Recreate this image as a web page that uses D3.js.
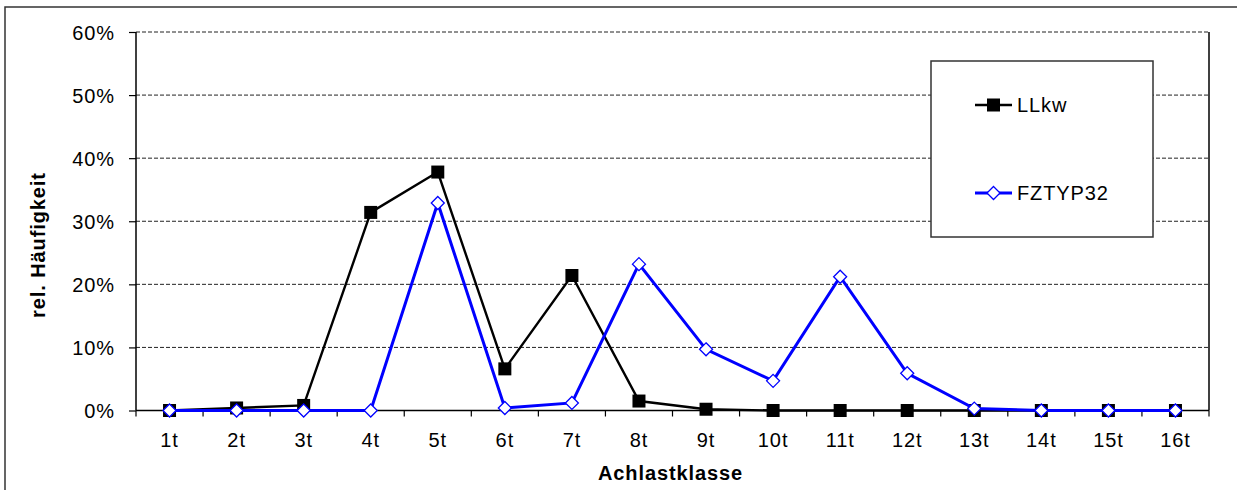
<!DOCTYPE html>
<html>
<head>
<meta charset="utf-8">
<script src="https://cdn.jsdelivr.net/npm/d3@7"></script>
<style>
  html, body { margin: 0; padding: 0; background: #fff; }
  svg { display: block; }
  text { font-family: "Liberation Sans", Arial, sans-serif; fill: #000; }
</style>
</head>
<body>
<svg id="chart" width="1237" height="490"></svg>
<script>
const categories = ["1t","2t","3t","4t","5t","6t","7t","8t","9t","10t","11t","12t","13t","14t","15t","16t"];
const llkw    = [0.000, 0.004, 0.008, 0.314, 0.378, 0.066, 0.214, 0.015, 0.002, 0.000, 0.000, 0.000, 0.000, 0.000, 0.000, 0.000];
const fztyp32 = [0.000, 0.000, 0.000, 0.000, 0.329, 0.004, 0.012, 0.232, 0.097, 0.047, 0.212, 0.059, 0.003, 0.000, 0.000, 0.000];
const seriesNames = ["LLkw", "FZTYP32"];
const yTicks = [0, 0.1, 0.2, 0.3, 0.4, 0.5, 0.6];
const xTitle = "Achlastklasse";
const yTitle = "rel. Häufigkeit";

const svg = d3.select("#chart");
const L = 136, R = 1209, T = 32, B = 410.5;
const FS = "20px", LS = "0.9px";

const x = d3.scaleBand().domain(categories).range([L, R]).padding(0);
const y = d3.scaleLinear().domain([0, 0.6]).range([B, T]);
const cx = d => x(d) + x.bandwidth() / 2;

// outer border
svg.append("rect").attr("x", 5).attr("y", 7).attr("width", 1240).attr("height", 490)
  .attr("fill", "none").attr("stroke", "#333").attr("stroke-width", 1.5);

// gridlines
svg.append("g").selectAll("line").data(yTicks.filter(v => v > 0)).join("line")
  .attr("x1", L).attr("x2", R).attr("y1", d => y(d)).attr("y2", d => y(d))
  .attr("stroke", "#222").attr("stroke-width", 1).attr("stroke-dasharray", "4,2");

// right border of plot
svg.append("line").attr("x1", R).attr("x2", R).attr("y1", T).attr("y2", B)
  .attr("stroke", "#000").attr("stroke-width", 1.5);

// y axis
const yAxis = d3.axisLeft(y).tickValues(yTicks).tickFormat(d3.format(".0%")).tickSize(7).tickPadding(14);
const gy = svg.append("g").attr("transform", `translate(${L},0)`).call(yAxis);
gy.select(".domain").attr("stroke", "#000").attr("stroke-width", 1.5).attr("d", `M0,${T}V${B}`);
gy.selectAll(".tick line").attr("stroke", "#000").attr("stroke-width", 1.2);
gy.selectAll(".tick text").style("font-size", FS).style("letter-spacing", LS)
  .attr("font-family", null).attr("dy", "0.36em");

// x axis
const xAxis = d3.axisBottom(x).tickSize(0).tickPadding(0);
const gx = svg.append("g").attr("transform", `translate(0,${B})`).call(xAxis);
gx.select(".domain").attr("stroke", "#000").attr("stroke-width", 1.5).attr("d", `M${L},0H${R}`);
gx.selectAll(".tick text").style("font-size", FS).style("letter-spacing", LS)
  .attr("font-family", null).attr("y", 36.5).attr("dy", 0);
// boundary ticks
const bounds = categories.map(c => x(c)).concat([x(categories[categories.length - 1]) + x.bandwidth()]);
gx.append("g").selectAll("line").data(bounds).join("line")
  .attr("x1", d => d).attr("x2", d => d).attr("y1", 0).attr("y2", 6)
  .attr("stroke", "#000").attr("stroke-width", 1.2);

// axis titles
svg.append("text").attr("x", (L + R) / 2 - 2).attr("y", 480).attr("text-anchor", "middle")
  .style("font-size", FS).style("font-weight", "bold").style("letter-spacing", LS).text(xTitle);
svg.append("text").attr("transform", `translate(45,${245}) rotate(-90)`).attr("text-anchor", "middle")
  .style("font-size", FS).style("font-weight", "bold").style("letter-spacing", LS).text(yTitle);

// lines
const line = d3.line().x((d, i) => cx(categories[i])).y(d => y(d));
svg.append("path").datum(llkw).attr("d", line).attr("fill", "none").attr("stroke", "#000").attr("stroke-width", 2.4);
svg.append("g").selectAll("rect").data(llkw).join("rect")
  .attr("x", (d, i) => cx(categories[i]) - 6.5).attr("y", d => y(d) - 6.5)
  .attr("width", 13).attr("height", 13).attr("fill", "#000");

svg.append("path").datum(fztyp32).attr("d", line).attr("fill", "none").attr("stroke", "#0000ff").attr("stroke-width", 3);
const diamond = (px, py, r) => `M${px},${py - r}L${px + r},${py}L${px},${py + r}L${px - r},${py}Z`;
svg.append("g").selectAll("path").data(fztyp32).join("path")
  .attr("d", (d, i) => diamond(cx(categories[i]), y(d), 6.5))
  .attr("fill", "#fff").attr("stroke", "#0000ff").attr("stroke-width", 1.3);

// legend
svg.append("rect").attr("x", 931).attr("y", 61).attr("width", 222).attr("height", 176)
  .attr("fill", "#fff").attr("stroke", "#333").attr("stroke-width", 1.5);
const legY = [105, 193];
svg.append("line").attr("x1", 975).attr("x2", 1012).attr("y1", legY[0]).attr("y2", legY[0]).attr("stroke", "#000").attr("stroke-width", 2.4);
svg.append("rect").attr("x", 987).attr("y", legY[0] - 6.5).attr("width", 13).attr("height", 13).attr("fill", "#000");
svg.append("line").attr("x1", 975).attr("x2", 1012).attr("y1", legY[1]).attr("y2", legY[1]).attr("stroke", "#0000ff").attr("stroke-width", 3);
svg.append("path").attr("d", diamond(993.5, legY[1], 6.5)).attr("fill", "#fff").attr("stroke", "#0000ff").attr("stroke-width", 1.3);
svg.append("g").selectAll("text").data(seriesNames).join("text")
  .attr("x", 1017).attr("y", (d, i) => legY[i]).attr("dy", "0.36em")
  .style("font-size", FS).style("letter-spacing", LS).text(d => d);
</script>
</body>
</html>
